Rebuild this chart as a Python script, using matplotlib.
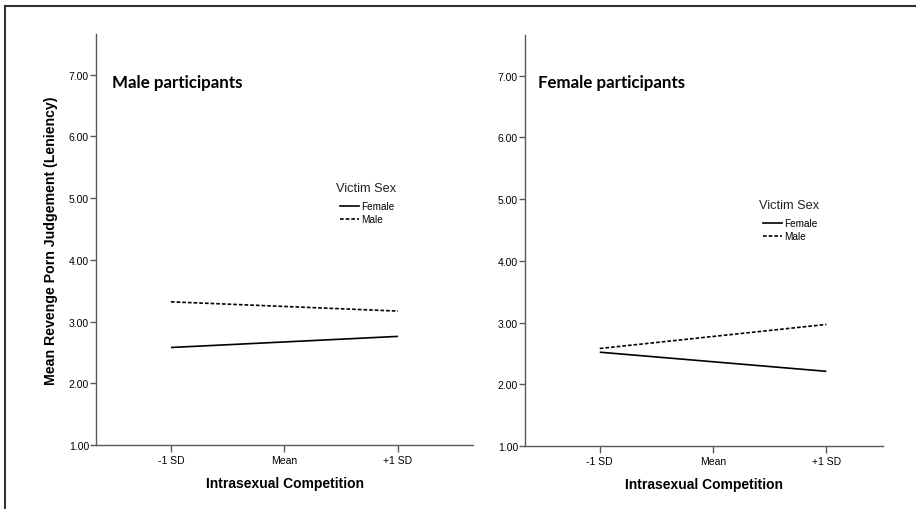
import matplotlib.pyplot as plt
from matplotlib.lines import Line2D

# data
x_labels = ["-1 SD", "Mean", "+1 SD"]
y_ticks = [1, 2, 3, 4, 5, 6, 7]
panels = ["Male participants", "Female participants"]
series = ["Female", "Male"]
male_part_female = [2.58, 2.67, 2.76]
male_part_male = [3.32, 3.245, 3.17]
female_part_female = [2.52, 2.365, 2.21]
female_part_male = [2.58, 2.775, 2.97]

plt.rcParams["font.family"] = ["Liberation Sans", "DejaVu Sans"]
axis_col = "#5a5a5a"

fig = plt.figure(figsize=(9.16, 5.10), dpi=100)
W, H = 916, 510


def add_ax(x0, x1, ytop, ybot):
    return fig.add_axes([x0 / W, 1 - ybot / H, (x1 - x0) / W, (ybot - ytop) / H])


ax1 = add_ax(96, 473, 35, 446)
ax2 = add_ax(525, 883, 36, 447)

data = [(male_part_female, male_part_male), (female_part_female, female_part_male)]
xlims = [(-0.66, 2.66), (-0.66, 2.5)]
title_pos = [(0.042, 0.883), (0.036, 0.886)]
legtitle_pos = [(0.637, 0.625), (0.654, 0.586)]
leg_pos = [(0.647, 0.593), (0.665, 0.554)]

for i, ax in enumerate([ax1, ax2]):
    fem, mal = data[i]
    ax.plot(range(3), fem, color="black", lw=1.2, solid_capstyle="butt")
    ax.plot(range(3), mal, color="black", lw=1.2, ls=(0, (2.2, 1.2)))
    ax.set_xlim(*xlims[i])
    ax.set_ylim(1, 7.66)
    ax.set_xticks(range(3))
    ax.set_xticklabels(x_labels)
    ax.set_yticks(y_ticks)
    ax.set_yticklabels(["%.2f" % v for v in y_ticks])
    for s in ["top", "right"]:
        ax.spines[s].set_visible(False)
    for s in ["left", "bottom"]:
        ax.spines[s].set_color(axis_col)
        ax.spines[s].set_linewidth(1.0)
    ax.tick_params(axis="y", length=4, width=1, color=axis_col, labelsize=7.5, pad=1)
    ax.tick_params(axis="x", length=5, width=1, color=axis_col, labelsize=7.5, pad=2)
    ax.set_xlabel("Intrasexual Competition", fontsize=10, fontweight="bold", labelpad=8)
    ax.text(title_pos[i][0], title_pos[i][1], panels[i], transform=ax.transAxes,
            fontsize=12.2, fontweight="bold", family=["Lato", "DejaVu Sans"],
            ha="left", va="center")
    # legend title drawn as its own text, entries below it
    ax.text(legtitle_pos[i][0], legtitle_pos[i][1], "Victim Sex", transform=ax.transAxes,
            fontsize=9.2, ha="left", va="center", color="#222222")
    handles = [Line2D([], [], color="black", lw=1.2),
               Line2D([], [], color="black", lw=1.2, ls=(0, (2.2, 1.2)))]
    ax.legend(handles, series, loc="upper left",
              bbox_to_anchor=leg_pos[i], frameon=False, fontsize=7.2,
              borderpad=0, borderaxespad=0,
              handlelength=1.9, handletextpad=0.25, labelspacing=0.3)

ax1.set_ylabel("Mean Revenge Porn Judgement (Leniency)", fontsize=10.2, fontweight="bold", labelpad=8)

# outer frame lines (top and left)
fig.add_artist(Line2D([5 / W, 1], [1 - 7 / H, 1 - 7 / H], color="#333333", lw=1.5))
fig.add_artist(Line2D([5 / W, 5 / W], [0, 1 - 7 / H], color="#333333", lw=1.5))

fig.savefig("out.png", dpi=100)
